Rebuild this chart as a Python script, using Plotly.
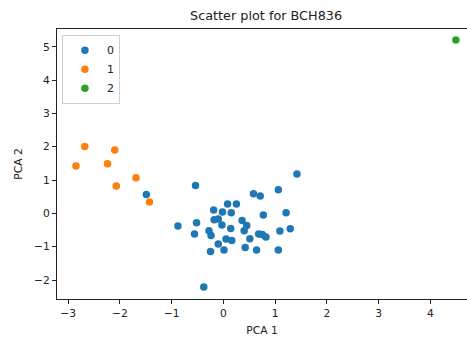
import plotly.graph_objects as go

# Cluster 0
x0 = [1.42, -0.54, -1.49, 0.58, 0.71, 1.06, 0.08, 0.25, -0.19, -0.02, 0.15, 0.77, 1.21,
      -0.88, -0.52, -0.18, -0.10, -0.03, 0.14, 0.36, 0.45, 0.40, -0.28, -0.24, -0.56,
      0.05, 0.16, -0.10, 0.51, 0.68, 0.75, 0.82, 1.09, 1.29, -0.25, 0.01, 0.42, 0.64,
      1.06, -0.38]
y0 = [1.18, 0.84, 0.57, 0.59, 0.52, 0.71, 0.28, 0.28, 0.10, 0.04, 0.02, -0.05, 0.02,
      -0.38, -0.28, -0.19, -0.17, -0.35, -0.45, -0.21, -0.36, -0.52, -0.52, -0.66, -0.62,
      -0.77, -0.81, -0.92, -0.76, -0.62, -0.63, -0.71, -0.53, -0.46, -1.14, -1.10, -1.02,
      -1.10, -1.10, -2.21]
# Cluster 1
x1 = [-2.68, -2.10, -2.85, -2.24, -1.69, -2.07, -1.43]
y1 = [2.01, 1.90, 1.42, 1.49, 1.07, 0.82, 0.34]
# Cluster 2
x2 = [4.49]
y2 = [5.20]

labels = ["0", "1", "2"]
colors = ["#1f77b4", "#ff7f0e", "#2ca02c"]
xs = [x0, x1, x2]
ys = [y0, y1, y2]

fig = go.Figure()
for lab, col, xv, yv in zip(labels, colors, xs, ys):
    fig.add_trace(go.Scatter(x=xv, y=yv, mode="markers", name=lab,
                             marker=dict(color=col, size=7.5, line=dict(width=0))))

font = "DejaVu Sans, sans-serif"
fig.update_layout(
    width=467, height=339,
    margin=dict(l=57, r=0, t=29, b=40),
    paper_bgcolor="white", plot_bgcolor="white",
    font=dict(family=font, size=10.7, color="#222"),
    title=dict(text="Scatter plot for BCH836", x=0.51, xref="paper", xanchor="center",
               y=1 - 16 / 339, yanchor="middle", font=dict(size=12.8, color="#222")),
    showlegend=True,
    legend=dict(x=0.012, y=0.979, xanchor="left", yanchor="top",
                bgcolor="white", bordercolor="#d0d0d0", borderwidth=1,
                font=dict(size=11), itemwidth=34, tracegroupgap=0),
    xaxis=dict(range=[-3.216, 4.705], tickvals=[-3, -2, -1, 0, 1, 2, 3, 4],
               ticktext=["\u22123", "\u22122", "\u22121", "0", "1", "2", "3", "4"],
               showgrid=False, zeroline=False, showline=True, mirror=True,
               linecolor="#222", linewidth=1, ticks="outside", ticklen=4,
               tickcolor="#222", tickwidth=1,
               title=dict(text="PCA 1", standoff=7, font=dict(size=10.7))),
    yaxis=dict(range=[-2.569, 5.533], tickvals=[-2, -1, 0, 1, 2, 3, 4, 5],
               ticktext=["\u22122", "\u22121", "0", "1", "2", "3", "4", "5"],
               showgrid=False, zeroline=False, showline=True, mirror=False,
               linecolor="#222", linewidth=1, ticks="outside", ticklen=4,
               tickcolor="#222", tickwidth=1,
               title=dict(text="PCA 2", standoff=9, font=dict(size=10.7))),
)

fig.write_html("out.html")
